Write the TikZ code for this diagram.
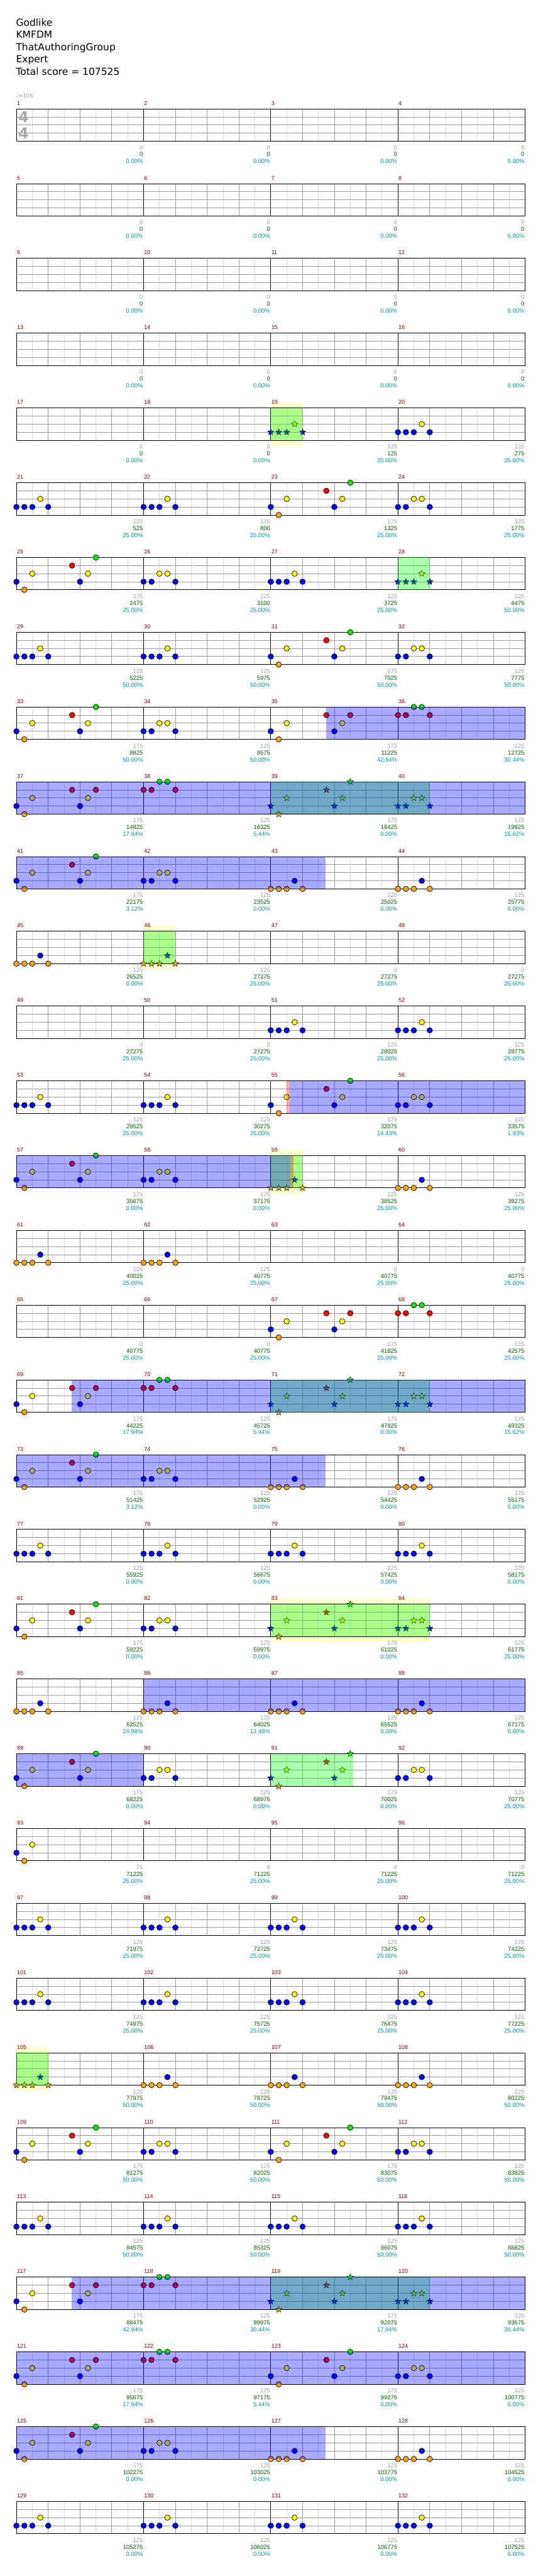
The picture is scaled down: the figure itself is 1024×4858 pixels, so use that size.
\documentclass[tikz,border=0pt]{standalone}
\usepackage{fontspec}
\setmainfont{DejaVu Sans}
\newfontfamily\numfont{Liberation Sans}
\newfontfamily\djv{DejaVu Sans}
\usetikzlibrary{shapes.geometric}
\definecolor{ngreen}{HTML}{00F000}
\definecolor{nred}{HTML}{FF0000}
\definecolor{nyellow}{HTML}{FFFF00}
\definecolor{nblue}{HTML}{0000FF}
\definecolor{norange}{HTML}{FFA500}
\definecolor{mnum}{HTML}{8B0000}
\definecolor{sgray}{HTML}{A0A0A0}
\definecolor{sgreen}{HTML}{006400}
\definecolor{steal}{HTML}{009B9B}
\definecolor{spbgc}{HTML}{FFFFCC}
\definecolor{lgrid}{HTML}{DDDDDD}
\definecolor{dgrid}{HTML}{9C9C9C}
\definecolor{tsig}{HTML}{AAAAAA}
\newcount\notecnt
\newif\ifstarn
\newcommand\setm[1]{\pgfmathtruncatemacro\mrow{floor((#1-1)/4)}\pgfmathtruncatemacro\mcol{#1-1-4*\mrow}\pgfmathsetmacro\mX{31+240*\mcol}\pgfmathsetmacro\mY{205.3+141*\mrow}}
\newcommand\nt[3]{\global\advance\notecnt by 1\relax
 \ifstarn\node[starnote,fill=#3] (nt\the\notecnt) at ({\mX+60*#1},{\mY+15.25*#2}) {};%
 \else\node[cnote,fill=#3] (nt\the\notecnt) at ({\mX+60*#1},{\mY+15.25*#2}) {};\fi}
\newcommand\pA[1]{\setm{#1}\nt{0}{3}{nblue}\nt{.25}{3}{nblue}\nt{.5}{3}{nblue}\nt{.75}{2}{nyellow}\nt{1}{3}{nblue}}
\newcommand\pC[1]{\setm{#1}\nt{0}{3}{nblue}\nt{.25}{4}{norange}\nt{.5}{2}{nyellow}\nt{1.75}{1}{nred}\nt{2}{3}{nblue}\nt{2.25}{2}{nyellow}\nt{2.5}{0}{ngreen}}
\newcommand\pCr[1]{\setm{#1}\nt{0}{3}{nblue}\nt{.25}{4}{norange}\nt{.5}{2}{nyellow}\nt{1.75}{1}{nred}\nt{2}{3}{nblue}\nt{2.25}{2}{nyellow}\nt{2.5}{1}{nred}}
\newcommand\pD[1]{\setm{#1}\nt{0}{3}{nblue}\nt{.25}{3}{nblue}\nt{.5}{2}{nyellow}\nt{.75}{2}{nyellow}\nt{1}{3}{nblue}}
\newcommand\pE[1]{\setm{#1}\nt{0}{1}{nred}\nt{.25}{1}{nred}\nt{.5}{0}{ngreen}\nt{.75}{0}{ngreen}\nt{1}{1}{nred}}
\newcommand\pF[1]{\setm{#1}\nt{0}{4}{norange}\nt{.25}{4}{norange}\nt{.5}{4}{norange}\nt{.75}{3}{nblue}\nt{1}{4}{norange}}
\newcommand\pG[1]{\setm{#1}\nt{0}{3}{nblue}\nt{.25}{4}{norange}\nt{.5}{2}{nyellow}}
\newcommand\ovl[4]{\setm{#1}\fill[#4,opacity=0.333] ({\mX+#2},\mY) rectangle ({\mX+#2+#3},{\mY+61});}
\newcommand\spbg[3]{\setm{#1}\fill[spbgc] ({\mX+#2},{\mY-10.3}) rectangle ({\mX+#2+#3},{\mY+71.3});}
\tikzset{
 cnote/.style={circle,draw=black,line width=0.6pt,inner sep=0pt,minimum size=7.8pt},
 starnote/.style={star,star points=5,star point ratio=2.3,draw=black,line width=0.4pt,inner sep=0pt,minimum size=9.5pt},
 hgrid/.style={draw=lgrid,line width=0.75pt},
 bgrid/.style={draw=dgrid,line width=0.75pt},
 mline/.style={draw=black,line width=0.8pt},
 mnumst/.style={text=mnum,font=\numfont\fontsize{8}{8}\selectfont,anchor=base west,inner sep=0pt},
 scst/.style={font=\numfont\fontsize{8.4}{8.4}\selectfont,anchor=base east,inner sep=0pt},
 head/.style={font=\djv\fontsize{13.8}{13.8}\selectfont,anchor=base west,inner sep=0pt,text=black},
}
\begin{document}
\begin{tikzpicture}[x=0.75pt,y=-0.75pt]
\fill[white] (0,0) rectangle (1024,4858);
\useasboundingbox (0,0) rectangle (1024,4858);
% star power backgrounds
\spbg{19}{0}{60}\spbg{46}{0}{60}\spbg{59}{0}{60}\spbg{83}{0}{300}\spbg{105}{0}{60}
% grids
\foreach \r in {0,...,32}{
 \pgfmathsetmacro\ry{205.3+141*\r}
 \foreach \k in {1,3,...,31} \draw[hgrid] ({31+30*\k},\ry) -- ++(0,61);
 \foreach \k in {1,2,3,5,6,7,9,10,11,13,14,15} \draw[bgrid] ({31+60*\k},\ry) -- ++(0,61);
 \foreach \j in {1,2,3} \draw[bgrid] (31,{\ry+15.25*\j}) -- (991,{\ry+15.25*\j});
 \foreach \k in {1,2,3} \draw[mline] ({31+240*\k},\ry) -- ++(0,61);
 \draw[mline] (31,\ry) rectangle (991,{\ry+61});
}
% time signature
\node[font=\djv\bfseries\fontsize{21}{21}\selectfont,text=tsig,inner sep=0pt] (ts1) at (44.5,221) {4};
\node[font=\djv\bfseries\fontsize{21}{21}\selectfont,text=tsig,inner sep=0pt] (ts2) at (44.5,251) {4};
% notes
\starntrue\pA{19}\starnfalse\pA{20}
\pA{21}\pA{22}\pC{23}\pD{24}
\pC{25}\pD{26}\pA{27}\starntrue\pA{28}\starnfalse
\pA{29}\pA{30}\pC{31}\pD{32}
\pC{33}\pD{34}\pCr{35}\pE{36}
\pCr{37}\pE{38}\starntrue\pC{39}\pD{40}\starnfalse
\pC{41}\pD{42}\pF{43}\pF{44}
\pF{45}\starntrue\pF{46}\starnfalse
\pA{51}\pA{52}
\pA{53}\pA{54}\pC{55}\pD{56}
\pC{57}\pD{58}\starntrue\pF{59}\starnfalse\pF{60}
\pF{61}\pF{62}
\pCr{67}\pE{68}
\pCr{69}\pE{70}\starntrue\pC{71}\pD{72}\starnfalse
\pC{73}\pD{74}\pF{75}\pF{76}
\pA{77}\pA{78}\pA{79}\pA{80}
\pC{81}\pD{82}\starntrue\pC{83}\pD{84}\starnfalse
\pF{85}\pF{86}\pF{87}\pF{88}
\pC{89}\pD{90}\starntrue\pC{91}\starnfalse\pD{92}
\pG{93}
\pA{97}\pA{98}\pA{99}\pA{100}
\pA{101}\pA{102}\pA{103}\pA{104}
\starntrue\pF{105}\starnfalse\pF{106}\pF{107}\pF{108}
\pC{109}\pD{110}\pC{111}\pD{112}
\pA{113}\pA{114}\pA{115}\pA{116}
\pCr{117}\pE{118}\starntrue\pC{119}\pD{120}\starnfalse
\pCr{121}\pE{122}\pC{123}\pD{124}
\pC{125}\pD{126}\pF{127}\pF{128}
\pA{129}\pA{130}\pA{131}\pA{132}
% overlays
\ovl{19}{0}{60}{green}\ovl{28}{0}{60}{green}\ovl{39}{0}{300}{green}\ovl{46}{0}{60}{green}
\ovl{59}{0}{60}{green}\ovl{71}{0}{300}{green}\ovl{83}{0}{300}{green}
\ovl{91}{0}{155}{green}\ovl{105}{0}{60}{green}\ovl{119}{0}{300}{green}
\ovl{35}{104}{376}{blue}\ovl{37}{0}{960}{blue}\ovl{41}{0}{583}{blue}
\ovl{55}{36}{444}{blue}\ovl{57}{0}{517}{blue}\ovl{69}{104}{856}{blue}\ovl{73}{0}{583}{blue}
\ovl{86}{0}{720}{blue}\ovl{89}{0}{240}{blue}\ovl{117}{104}{856}{blue}\ovl{121}{0}{960}{blue}\ovl{125}{0}{583}{blue}
\ovl{55}{30}{6}{red}\ovl{59}{37}{6}{red}
% header
\node[head] (title) at (30,49.3) {Godlike};
\node[head] (artist) at (30,72.3) {KMFDM};
\node[head] (author) at (30,95.3) {ThatAuthoringGroup};
\node[head] (diff) at (30,118.3) {Expert};
\node[head] (total) at (30,141.3) {Total score = 107525};
\node[font=\djv\fontsize{7.5}{7.5}\selectfont,text=sgray,anchor=base west,inner sep=0pt] (tempo) at (30,185) {♩=106};
% measure numbers and scores
\foreach \m/\g/\s/\p in {1/0/0/0.00,2/0/0/0.00,3/0/0/0.00,4/0/0/0.00,5/0/0/0.00,6/0/0/0.00,7/0/0/0.00,8/0/0/0.00,9/0/0/0.00,10/0/0/0.00,11/0/0/0.00,12/0/0/0.00,13/0/0/0.00,14/0/0/0.00,15/0/0/0.00,16/0/0/0.00,
17/0/0/0.00,18/0/0/0.00,19/125/125/25.00,20/125/275/25.00,
21/125/525/25.00,22/125/800/25.00,23/175/1325/25.00,24/125/1775/25.00,
25/175/2475/25.00,26/125/3100/25.00,27/125/3725/25.00,28/125/4475/50.00,
29/125/5225/50.00,30/125/5975/50.00,31/175/7025/50.00,32/125/7775/50.00,
33/175/8825/50.00,34/125/9575/50.00,35/175/11225/42.94,36/125/12725/30.44,
37/175/14825/17.94,38/125/16325/5.44,39/175/18425/0.00,40/125/19925/15.62,
41/175/22175/3.12,42/125/23525/0.00,43/125/25025/0.00,44/125/25775/0.00,
45/125/26525/0.00,46/125/27275/25.00,47/0/27275/25.00,48/0/27275/25.00,
49/0/27275/25.00,50/0/27275/25.00,51/125/28025/25.00,52/125/28775/25.00,
53/125/29525/25.00,54/125/30275/25.00,55/175/32075/14.43,56/125/33575/1.93,
57/175/35675/0.00,58/125/37175/0.00,59/125/38525/25.00,60/125/39275/25.00,
61/125/40025/25.00,62/125/40775/25.00,63/0/40775/25.00,64/0/40775/25.00,
65/0/40775/25.00,66/0/40775/25.00,67/175/41825/25.00,68/125/42575/25.00,
69/175/44225/17.94,70/125/45725/5.44,71/175/47825/0.00,72/125/49325/15.62,
73/175/51425/3.12,74/125/52925/0.00,75/125/54425/0.00,76/125/55175/0.00,
77/125/55925/0.00,78/125/56675/0.00,79/125/57425/0.00,80/125/58175/0.00,
81/175/59225/0.00,82/125/59975/0.00,83/175/61025/0.00,84/125/61775/25.00,
85/125/62525/24.98,86/125/64025/12.48,87/125/65525/0.00,88/125/67175/0.00,
89/175/68225/0.00,90/125/68975/0.00,91/175/70025/0.00,92/125/70775/25.00,
93/75/71225/25.00,94/0/71225/25.00,95/0/71225/25.00,96/0/71225/25.00,
97/125/71975/25.00,98/125/72725/25.00,99/125/73475/25.00,100/125/74225/25.00,
101/125/74975/25.00,102/125/75725/25.00,103/125/76475/25.00,104/125/77225/25.00,
105/125/77975/50.00,106/125/78725/50.00,107/125/79475/50.00,108/125/80225/50.00,
109/175/81275/50.00,110/125/82025/50.00,111/175/83075/50.00,112/125/83825/50.00,
113/125/84575/50.00,114/125/85325/50.00,115/125/86075/50.00,116/125/86825/50.00,
117/175/88475/42.94,118/125/89975/30.44,119/175/92075/17.94,120/125/93575/30.44,
121/175/95675/17.94,122/125/97175/5.44,123/175/99275/0.00,124/125/100775/0.00,
125/175/102275/0.00,126/125/103025/0.00,127/125/103775/0.00,128/125/104525/0.00,
129/125/105275/0.00,130/125/106025/0.00,131/125/106775/0.00,132/125/107525/0.00}{
 \setm{\m}
 \node[mnumst] (mn\m) at ({\mX+0.8},{\mY-7}) {\m};
 \node[scst,text=sgray] (sg\m) at ({\mX+239},{\mY+77}) {\g};
 \node[scst,text=sgreen] (ss\m) at ({\mX+239},{\mY+90}) {\s};
 \node[scst,text=steal] (sp\m) at ({\mX+239},{\mY+103}) {\p\%};
}
\end{tikzpicture}
\end{document}
